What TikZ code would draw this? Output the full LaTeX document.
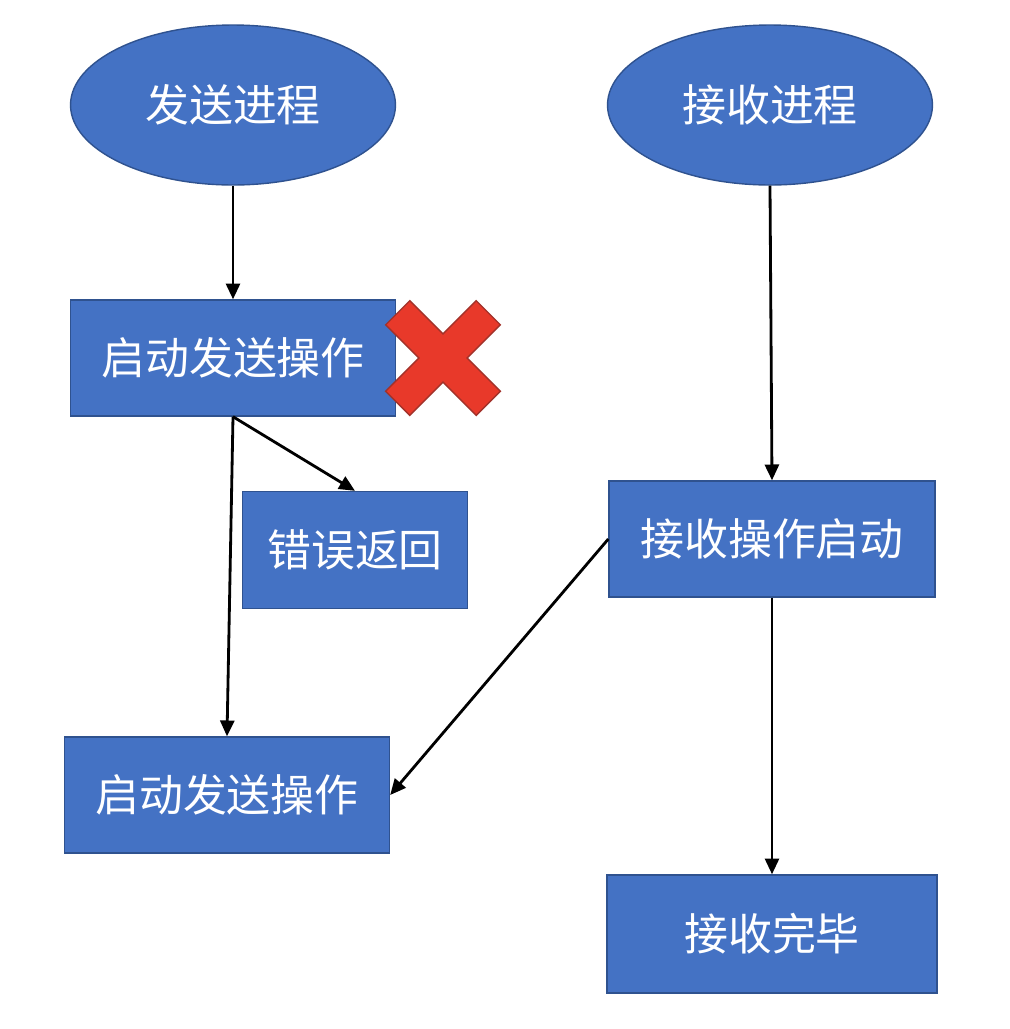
\documentclass[tikz,border=0pt]{standalone}
\usepackage{fontspec}
\setmainfont{Noto Sans CJK SC}
\usepackage{tikz}
\usetikzlibrary{positioning, shapes.geometric, arrows.meta}

\definecolor{boxblue}{HTML}{4472C4}
\definecolor{boxedge}{HTML}{2F528F}
\definecolor{crossred}{HTML}{E8392A}
\definecolor{crossedge}{HTML}{A2322A}

\begin{document}
\begin{tikzpicture}[x=0.02cm, y=-0.02cm,
    proc/.style={ellipse, draw=boxedge, fill=boxblue, line width=0.8pt, text=white,
        minimum width=6.5cm, minimum height=3.2cm, font=\fontsize{25}{30}\selectfont},
    opbox/.style={rectangle, draw=boxedge, fill=boxblue, line width=0.8pt, text=white,
        inner sep=0pt, minimum height=2.32cm, font=\fontsize{25}{30}\selectfont},
    flow/.style={-{Triangle[length=9pt, width=8pt]}, line width=1.6pt}]
            % 1. Background
            \fill[white] (0,0) rectangle (1010,1029);

            % 2. Processes (ellipses)
            \node[proc] (sendproc) at (233,105) {发送进程};
            \node[proc] (recvproc) at (770,105) {接收进程};

            % 3. Operations (boxes)
            \node[opbox, minimum width=6.5cm] (startsend) at (233,358) {启动发送操作};
            \node[opbox, minimum width=4.5cm, minimum height=2.34cm] (errret) at (355,550) {错误返回};
            \node[opbox, minimum width=6.52cm] (recvstart) at (772,539) {接收操作启动};
            \node[opbox, minimum width=6.5cm] (startsend2) at (227,795) {启动发送操作};
            \node[opbox, minimum width=6.6cm, minimum height=2.36cm] (recvdone) at (772,934) {接收完毕};

            % 4. Red cross (failed send)
            \begin{scope}[shift={(443,358)}, rotate=45]
                \draw[fill=crossred, draw=crossedge, line width=0.8pt]
                    (-17,-64) -- (17,-64) -- (17,-17) -- (64,-17) -- (64,17) -- (17,17)
                    -- (17,64) -- (-17,64) -- (-17,17) -- (-64,17) -- (-64,-17) -- (-17,-17) -- cycle;
            \end{scope}

            % 5. Arrows
            \draw[flow] (sendproc.south) -- (startsend.north);
            \draw[flow] (recvproc.south) -- (recvstart.north);
            \draw[flow] (startsend.south) -- (errret.north);
            \draw[flow] (startsend.south) -- (startsend2.north);
            \draw[flow] (recvstart.west) -- (startsend2.east);
            \draw[flow] (recvstart.south) -- (recvdone.north);
        \end{tikzpicture}
\end{document}
